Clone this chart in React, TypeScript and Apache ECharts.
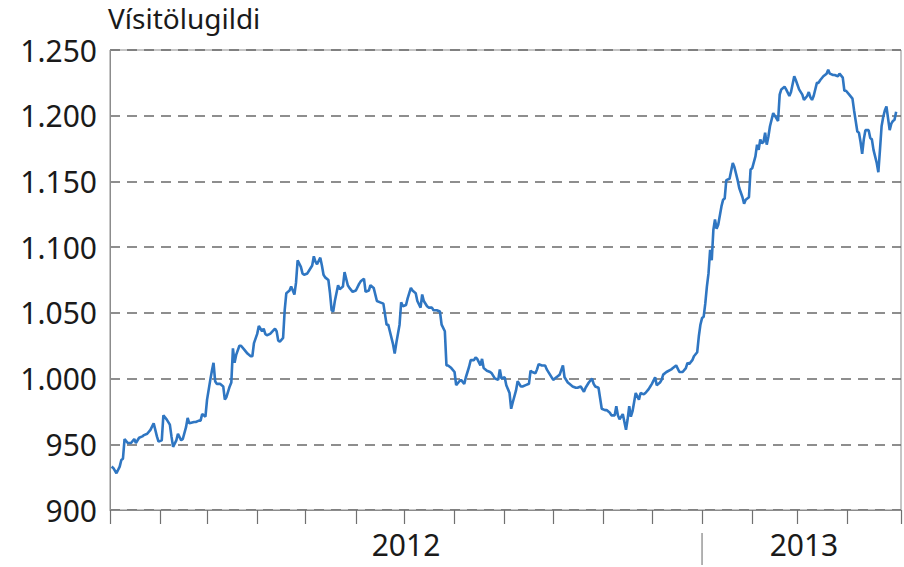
import React, { useEffect, useRef } from "react";
import * as echarts from "echarts";

const title = "Vísitölugildi";

const dates = [
  "2012-01-02","2012-01-03","2012-01-05","2012-01-07","2012-01-08","2012-01-09","2012-01-10","2012-01-12","2012-01-14","2012-01-16",
  "2012-01-17","2012-01-19","2012-01-21","2012-01-22","2012-01-24","2012-01-26","2012-01-28","2012-01-30","2012-01-31","2012-02-02",
  "2012-02-03","2012-02-05","2012-02-07","2012-02-08","2012-02-09","2012-02-11","2012-02-12","2012-02-14","2012-02-15","2012-02-17",
  "2012-02-18","2012-02-19","2012-02-22","2012-02-23","2012-02-25","2012-02-26","2012-02-27","2012-02-29","2012-03-01","2012-03-03",
  "2012-03-04","2012-03-05","2012-03-06","2012-03-07","2012-03-09","2012-03-11","2012-03-12","2012-03-13","2012-03-15","2012-03-16",
  "2012-03-17","2012-03-18","2012-03-19","2012-03-21","2012-03-22","2012-03-24","2012-03-26","2012-03-28","2012-03-29","2012-03-30",
  "2012-04-01","2012-04-02","2012-04-04","2012-04-05","2012-04-06","2012-04-07","2012-04-09","2012-04-12","2012-04-13","2012-04-14",
  "2012-04-15","2012-04-17","2012-04-18","2012-04-19","2012-04-21","2012-04-22","2012-04-24","2012-04-25","2012-04-26","2012-04-28",
  "2012-04-29","2012-04-30","2012-05-02","2012-05-03","2012-05-05","2012-05-06","2012-05-07","2012-05-08","2012-05-10","2012-05-11",
  "2012-05-12","2012-05-13","2012-05-15","2012-05-16","2012-05-17","2012-05-18","2012-05-19","2012-05-21","2012-05-22","2012-05-24",
  "2012-05-25","2012-05-27","2012-05-28","2012-05-30","2012-06-01","2012-06-03","2012-06-04","2012-06-06","2012-06-07","2012-06-09",
  "2012-06-10","2012-06-12","2012-06-14","2012-06-16","2012-06-18","2012-06-19","2012-06-20","2012-06-21","2012-06-22","2012-06-24",
  "2012-06-25","2012-06-26","2012-06-28","2012-06-29","2012-06-30","2012-07-02","2012-07-03","2012-07-05","2012-07-06","2012-07-08",
  "2012-07-09","2012-07-11","2012-07-12","2012-07-13","2012-07-15","2012-07-16","2012-07-18","2012-07-19","2012-07-21","2012-07-23",
  "2012-07-24","2012-07-26","2012-07-27","2012-07-28","2012-07-30","2012-08-01","2012-08-02","2012-08-04","2012-08-05","2012-08-07",
  "2012-08-08","2012-08-10","2012-08-11","2012-08-13","2012-08-14","2012-08-15","2012-08-17","2012-08-18","2012-08-19","2012-08-21",
  "2012-08-23","2012-08-24","2012-08-26","2012-08-28","2012-08-29","2012-08-30","2012-09-01","2012-09-02","2012-09-04","2012-09-05",
  "2012-09-06","2012-09-08","2012-09-09","2012-09-11","2012-09-12","2012-09-14","2012-09-16","2012-09-17","2012-09-18","2012-09-20",
  "2012-09-21","2012-09-22","2012-09-24","2012-09-26","2012-09-27","2012-09-29","2012-10-01","2012-10-02","2012-10-04","2012-10-05",
  "2012-10-07","2012-10-08","2012-10-10","2012-10-11","2012-10-13","2012-10-15","2012-10-16","2012-10-18","2012-10-20","2012-10-21",
  "2012-10-23","2012-10-25","2012-10-26","2012-10-27","2012-10-29","2012-10-30","2012-10-31","2012-11-02","2012-11-03","2012-11-05",
  "2012-11-06","2012-11-08","2012-11-09","2012-11-10","2012-11-11","2012-11-13","2012-11-15","2012-11-16","2012-11-17","2012-11-18",
  "2012-11-19","2012-11-20","2012-11-21","2012-11-23","2012-11-24","2012-11-26","2012-11-27","2012-11-29","2012-11-30","2012-12-01",
  "2012-12-03","2012-12-04","2012-12-06","2012-12-07","2012-12-08","2012-12-10","2012-12-13","2012-12-14","2012-12-16","2012-12-18",
  "2012-12-20","2012-12-22","2012-12-23","2012-12-24","2012-12-26","2012-12-27","2012-12-29","2012-12-30","2012-12-31","2013-01-01",
  "2013-01-02","2013-01-03","2013-01-04","2013-01-05","2013-01-06","2013-01-07","2013-01-08","2013-01-09","2013-01-10","2013-01-11",
  "2013-01-13","2013-01-14","2013-01-15","2013-01-16","2013-01-18","2013-01-20","2013-01-21","2013-01-23","2013-01-24","2013-01-26",
  "2013-01-27","2013-01-28","2013-01-30","2013-01-31","2013-02-01","2013-02-03","2013-02-04","2013-02-05","2013-02-06","2013-02-07",
  "2013-02-08","2013-02-09","2013-02-10","2013-02-11","2013-02-12","2013-02-14","2013-02-16","2013-02-17","2013-02-18","2013-02-19",
  "2013-02-21","2013-02-22","2013-02-24","2013-02-25","2013-02-27","2013-02-28","2013-03-02","2013-03-04","2013-03-05","2013-03-07",
  "2013-03-08","2013-03-09","2013-03-10","2013-03-11","2013-03-13","2013-03-14","2013-03-15","2013-03-17","2013-03-19","2013-03-20",
  "2013-03-21","2013-03-23","2013-03-24","2013-03-26","2013-03-27","2013-03-29","2013-03-30","2013-03-31","2013-04-02","2013-04-04",
  "2013-04-05","2013-04-06","2013-04-07","2013-04-08","2013-04-09","2013-04-10","2013-04-11","2013-04-12","2013-04-14","2013-04-15",
  "2013-04-16","2013-04-17","2013-04-19","2013-04-20","2013-04-21","2013-04-22","2013-04-23","2013-04-24","2013-04-25","2013-04-27",
  "2013-04-28","2013-04-29","2013-04-30","2013-05-01"
];

const values = [
  933,932,928,933,938,939,954,951,951,954,
  951,955,956,957,958,961,966,956,952,953,
  972,969,965,956,948,953,958,953,954,963,
  970,966,967,967,968,968,973,971,984,999,
  1006,1012,998,996,996,994,984,986,994,997,
  1023,1012,1018,1025,1025,1022,1019,1017,1017,1027,
  1034,1040,1036,1038,1034,1033,1034,1038,1036,1029,
  1028,1031,1052,1065,1067,1070,1064,1073,1090,1085,
  1080,1079,1080,1082,1086,1093,1089,1087,1092,1086,
  1079,1077,1075,1065,1052,1051,1059,1071,1068,1070,
  1081,1071,1069,1066,1067,1072,1074,1076,1066,1067,
  1071,1069,1059,1058,1057,1049,1041,1041,1036,1026,
  1019,1027,1041,1058,1055,1056,1061,1069,1067,1065,
  1059,1054,1064,1059,1055,1054,1054,1052,1052,1051,
  1041,1036,1010,1010,1008,1005,995,998,999,996,
  1001,1009,1014,1014,1016,1015,1010,1015,1008,1006,
  1005,1004,1000,999,1007,1000,1001,995,989,977,
  982,991,998,994,994,995,996,1006,1005,1004,
  1007,1011,1010,1010,1007,1003,999,1000,1002,1003,
  1010,1001,997,996,994,993,993,994,990,993,
  997,1000,996,994,993,985,977,976,976,974,
  972,972,979,972,969,973,961,969,979,971,
  975,982,989,984,989,988,989,992,994,996,
  1001,995,997,999,1003,1005,1007,1008,1010,1005,
  1005,1008,1012,1011,1014,1017,1020,1032,1041,1046,
  1047,1057,1070,1080,1098,1090,1113,1121,1114,1117,
  1131,1136,1137,1151,1152,1164,1161,1151,1145,1138,
  1133,1136,1138,1159,1160,1169,1178,1174,1182,1179,
  1180,1187,1178,1184,1192,1202,1198,1196,1216,1220,
  1222,1220,1215,1218,1230,1227,1220,1216,1212,1215,
  1218,1214,1212,1215,1225,1225,1227,1230,1232,1235,
  1232,1231,1231,1230,1232,1229,1219,1219,1216,1213,
  1204,1196,1188,1187,1180,1171,1182,1189,1189,1183,
  1182,1174,1164,1157,1174,1192,1199,1204,1207,1189,
  1194,1196,1197,1203
];

const monthStarts = [
  "2012-01-01","2012-02-01","2012-03-01","2012-04-01","2012-05-01","2012-06-01",
  "2012-07-01","2012-08-01","2012-09-01","2012-10-01","2012-11-01","2012-12-01",
  "2013-01-01","2013-02-01","2013-03-01","2013-04-01"
];
const axisStart = "2012-01-01";
const axisEnd = "2013-05-04";
const yearLabelDates = ["2012-07-02", "2013-03-05"];
const yearLabelTexts = ["2012", "2013"];
const yearBoundary = "2013-01-01";
const yMin = 900;
const yMax = 1250;
const yStep = 50;

const ts = (s: string) => Date.parse(s + "T00:00:00Z");

const fmtThousands = (v: number) =>
  v >= 1000 ? Math.floor(v / 1000) + "." + String(v % 1000).padStart(3, "0") : String(v);

export default function App() {
  const ref = useRef<HTMLDivElement>(null);
  useEffect(() => {
    if (!ref.current) return;
    const chart = echarts.init(ref.current, null, { renderer: "svg" });
    const font = "'Noto Sans', 'Open Sans', sans-serif";
    const labelMap = new Map<number, string>(yearLabelDates.map((d, i) => [ts(d), yearLabelTexts[i]]));
    chart.setOption({
      animation: false,
      grid: { left: 110, right: 3, top: 50, bottom: 57, show: true, borderColor: "#8c8c8c", borderWidth: 1 },
      xAxis: {
        type: "value",
        min: ts(axisStart),
        max: ts(axisEnd),
        axisLine: { show: true, lineStyle: { color: "#8c8c8c", width: 1 } },
        axisTick: {
          show: true,
          length: 14,
          customValues: [...monthStarts.map(ts), ts(axisEnd)],
          lineStyle: { color: "#707070", width: 1.2 },
        },
        axisLabel: {
          customValues: yearLabelDates.map(ts),
          formatter: (v: number) => labelMap.get(v) ?? "",
          fontSize: 30,
          lineHeight: 26,
          color: "#1a1a1a",
          fontFamily: font,
          margin: 21,
        },
        splitLine: { show: false },
      },
      yAxis: {
        type: "value",
        min: yMin,
        max: yMax,
        interval: yStep,
        axisLine: { show: true, lineStyle: { color: "#8c8c8c", width: 1 } },
        axisTick: { show: false },
        axisLabel: {
          formatter: fmtThousands,
          fontSize: 30,
          color: "#1a1a1a",
          fontFamily: font,
          margin: 13,
          padding: [5, 0, 0, 0],
        },
        splitLine: { show: true, lineStyle: { type: [10, 7], color: "#6a6a6a", width: 1.5 } },
      },
      series: [
        {
          type: "line",
          data: dates.map((d, i) => [ts(d), values[i]]),
          symbol: "none",
          showSymbol: false,
          silent: true,
          lineStyle: { color: "#2f76c2", width: 2.6 },
        },
      ],
    });
    const bx = chart.convertToPixel({ xAxisIndex: 0 }, ts(yearBoundary)) as number;
    chart.setOption({
      graphic: [
        {
          type: "text",
          left: 108,
          top: 4,
          style: { text: title, fontSize: 28, fontFamily: font, fill: "#1a1a1a" },
        },
        {
          type: "line",
          shape: { x1: bx, y1: 533, x2: bx, y2: 565 },
          style: { stroke: "#808080", lineWidth: 1.2 },
        },
      ],
    });
    return () => chart.dispose();
  }, []);
  return <div ref={ref} style={{ position: "absolute", left: 0, top: 0, width: 904, height: 567 }} />;
}
